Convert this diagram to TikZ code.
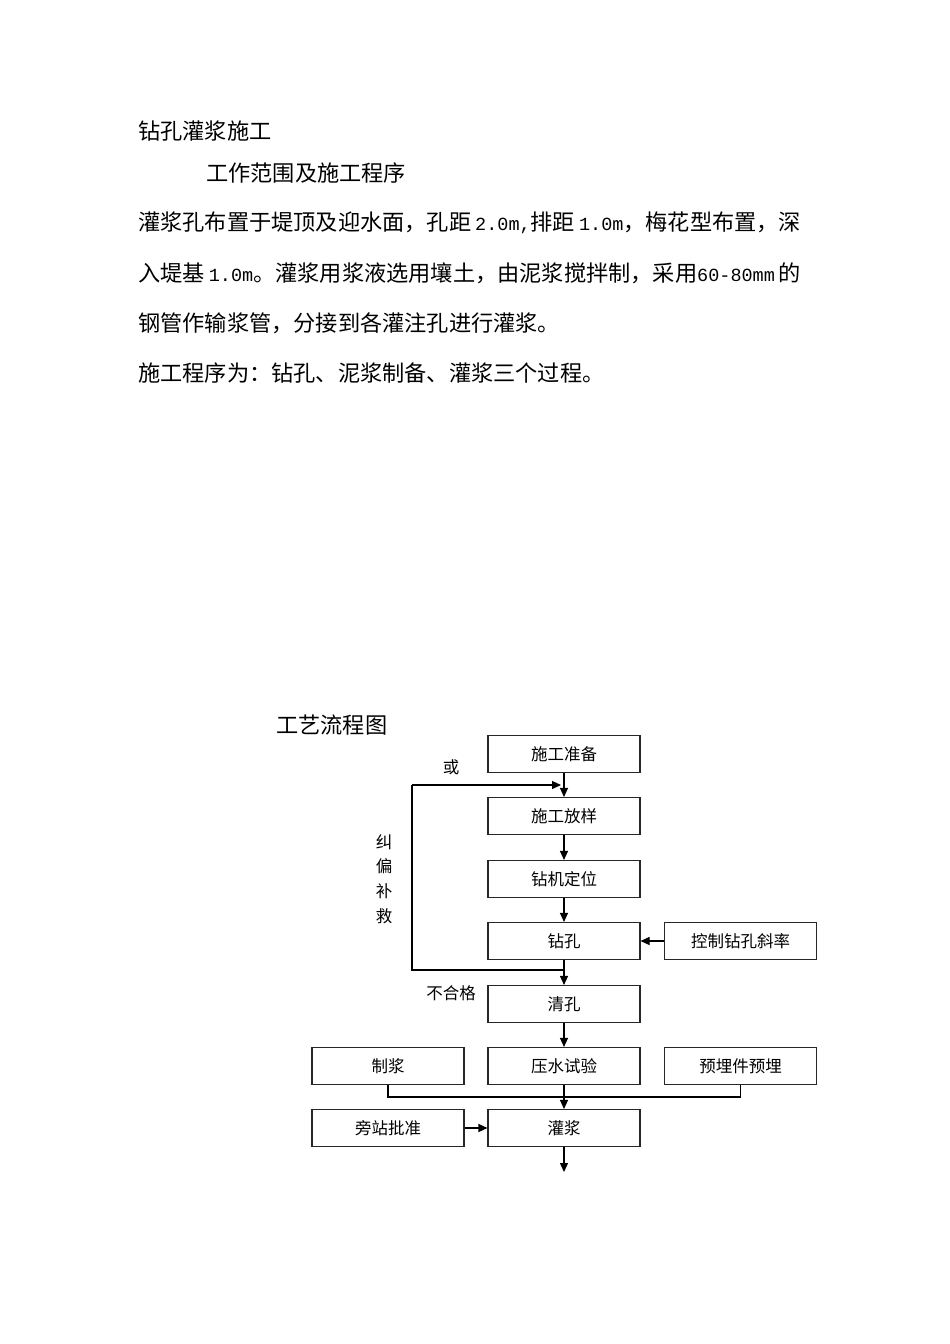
\documentclass[tikz,border=0pt]{standalone}
\usepackage{fontspec}
\newfontfamily\cjk{Noto Sans CJK SC}
\newfontfamily\monodig{Liberation Mono}
\usetikzlibrary{arrows.meta}
\newcommand{\dg}[1]{{\monodig\fontsize{18.5}{20}\selectfont #1}}
\begin{document}
\begin{tikzpicture}[x=1pt,y=-1pt,
  box/.style={draw=black!85, line width=1.1pt, minimum width=152pt, minimum height=37pt, inner sep=0pt, font=\cjk\fontsize{16.5}{18}\selectfont},
  txt/.style={anchor=west, inner sep=0pt, font=\cjk\fontsize{22.2}{24}\selectfont},
  lbl/.style={inner sep=0pt, font=\cjk\fontsize{16.5}{18}\selectfont},
  ln/.style={draw=black, line width=1.1pt},
  arr/.style={ln, -{Triangle[length=9pt,width=8pt]}}]
\useasboundingbox (0,0) rectangle (950,1344);
\fill[white] (0,0) rectangle (950,1344);
% text
\node[txt] (t1) at (138,131) {钻孔灌浆施工};
\node[txt] (t2) at (206,173) {工作范围及施工程序};
\node[txt] (t3) at (138,223) {灌浆孔布置于堤顶及迎水面，孔距\hspace{4pt}\dg{2.0m,}排距\hspace{4pt}\dg{1.0m}，梅花型布置，深};
\node[txt] (t4) at (138,273) {入堤基\hspace{4pt}\dg{1.0m}。灌浆用浆液选用壤土，由泥浆搅拌制，采用\dg{60-80mm}\hspace{4pt}的};
\node[txt] (t5) at (138,323) {钢管作输浆管，分接到各灌注孔进行灌浆。};
\node[txt] (t6) at (138,373) {施工程序为：钻孔、泥浆制备、灌浆三个过程。};
\node[txt] (title) at (276,725) {工艺流程图};
% boxes
\node[box] (n1) at (564,754) {施工准备};
\node[box] (n2) at (564,816) {施工放样};
\node[box] (n3) at (564,879) {钻机定位};
\node[box] (n4) at (564,941) {钻孔};
\node[box] (n4r) at (740.5,941) {控制钻孔斜率};
\node[box] (n5) at (564,1004) {清孔};
\node[box] (n6l) at (388,1066) {制浆};
\node[box] (n6) at (564,1066) {压水试验};
\node[box] (n6r) at (740.5,1066) {预埋件预埋};
\node[box] (n7l) at (388,1128) {旁站批准};
\node[box] (n7) at (564,1128) {灌浆};
\coordinate (end) at (564,1172);
\coordinate (jb) at (564,970);
\coordinate (cl) at (412,785);
\coordinate (jt) at (561,785);
\coordinate (m) at (564,1097);
% labels
\node[lbl] (lor) at (451,767) {或};
\node[lbl] (l1) at (384,842) {纠};
\node[lbl] (l2) at (384,866) {偏};
\node[lbl] (l3) at (384,891) {补};
\node[lbl] (l4) at (384,916) {救};
\node[lbl] (lng) at (451,993) {不合格};
% connectors
\draw[arr] (n1) -- (n2);
\draw[arr] (n2) -- (n3);
\draw[arr] (n3) -- (n4);
\draw[arr] (n4r) -- (n4);
\draw[arr] (n4) -- (n5);
\draw[ln] (jb) -| (cl);
\draw[arr] (cl) -- (jt);
\draw[arr] (n5) -- (n6);
\draw[ln] (n6l.south) |- (m) -| (n6r.south);
\draw[arr] (n6) -- (n7);
\draw[arr] (n7l) -- (n7);
\draw[arr] (n7) -- (end);
\end{tikzpicture}
\end{document}
